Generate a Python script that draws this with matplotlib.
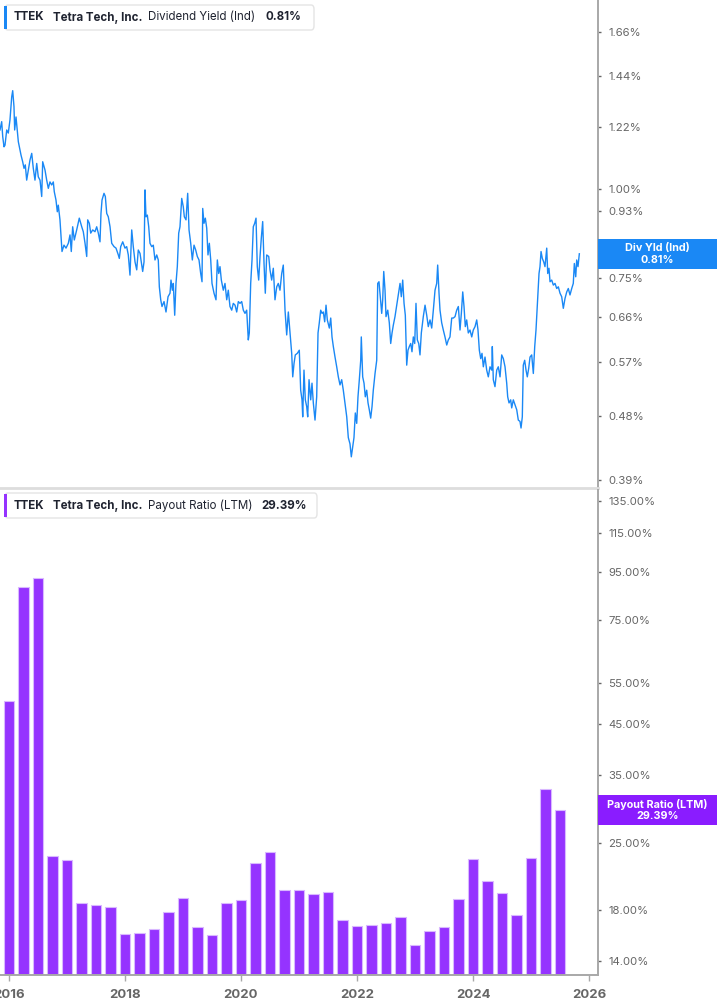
import matplotlib
matplotlib.use("Agg")
import matplotlib.pyplot as plt
from matplotlib.patches import Rectangle, FancyBboxPatch
from matplotlib.transforms import IdentityTransform
from matplotlib.ticker import FixedLocator, NullLocator

plt.rcParams['font.family'] = ['Inter', 'DejaVu Sans']

# dividend yield (Ind), % -- dates as decimal years
yld_dates = [
    2015.845, 2015.874, 2015.892, 2015.914, 2015.931, 2015.961, 2015.988, 2016.017, 2016.047, 2016.064,
    2016.086, 2016.098, 2016.121, 2016.143, 2016.161, 2016.190, 2016.207, 2016.236, 2016.259, 2016.281,
    2016.305, 2016.333, 2016.362, 2016.392, 2016.419, 2016.448, 2016.478, 2016.505, 2016.535, 2016.564,
    2016.581, 2016.621, 2016.650, 2016.678, 2016.707, 2016.736, 2016.764, 2016.781, 2016.810, 2016.833,
    2016.850, 2016.879, 2016.897, 2016.914, 2016.948, 2016.983, 2017.023, 2017.052, 2017.074, 2017.098,
    2017.126, 2017.167, 2017.212, 2017.254, 2017.281, 2017.311, 2017.340, 2017.357, 2017.385, 2017.409,
    2017.443, 2017.483, 2017.512, 2017.540, 2017.569, 2017.586, 2017.604, 2017.638, 2017.661, 2017.685,
    2017.712, 2017.742, 2017.771, 2017.811, 2017.845, 2017.885, 2017.902, 2017.926, 2017.961, 2018.000,
    2018.029, 2018.057, 2018.086, 2018.116, 2018.143, 2018.173, 2018.202, 2018.229, 2018.259, 2018.288,
    2018.305, 2018.328, 2018.345, 2018.362, 2018.385, 2018.409, 2018.431, 2018.461, 2018.488, 2018.517,
    2018.547, 2018.574, 2018.592, 2018.616, 2018.638, 2018.673, 2018.707, 2018.742, 2018.776, 2018.793,
    2018.816, 2018.833, 2018.857, 2018.879, 2018.902, 2018.926, 2018.948, 2018.978, 2019.005, 2019.023,
    2019.052, 2019.081, 2019.104, 2019.133, 2019.161, 2019.190, 2019.219, 2019.247, 2019.276, 2019.305,
    2019.328, 2019.340, 2019.362, 2019.385, 2019.409, 2019.431, 2019.454, 2019.478, 2019.500, 2019.535,
    2019.569, 2019.592, 2019.616, 2019.638, 2019.661, 2019.695, 2019.724, 2019.754, 2019.781, 2019.810,
    2019.840, 2019.867, 2019.897, 2019.926, 2019.954, 2019.983, 2020.012, 2020.040, 2020.069, 2020.098,
    2020.126, 2020.143, 2020.167, 2020.190, 2020.212, 2020.236, 2020.259, 2020.281, 2020.305, 2020.328,
    2020.350, 2020.374, 2020.397, 2020.419, 2020.443, 2020.478, 2020.500, 2020.529, 2020.557, 2020.586,
    2020.616, 2020.643, 2020.672, 2020.702, 2020.729, 2020.759, 2020.788, 2020.816, 2020.845, 2020.874,
    2020.892, 2020.914, 2020.936, 2020.971, 2021.005, 2021.029, 2021.052, 2021.064, 2021.086, 2021.109,
    2021.133, 2021.150, 2021.173, 2021.202, 2021.224, 2021.247, 2021.276, 2021.305, 2021.328, 2021.350,
    2021.374, 2021.397, 2021.419, 2021.443, 2021.466, 2021.488, 2021.523, 2021.547, 2021.569, 2021.592,
    2021.621, 2021.650, 2021.678, 2021.707, 2021.736, 2021.764, 2021.793, 2021.823, 2021.850, 2021.879,
    2021.902, 2021.926, 2021.948, 2021.971, 2021.995, 2022.017, 2022.040, 2022.064, 2022.074, 2022.098,
    2022.121, 2022.143, 2022.167, 2022.190, 2022.212, 2022.236, 2022.259, 2022.281, 2022.311, 2022.340,
    2022.357, 2022.379, 2022.402, 2022.426, 2022.443, 2022.461, 2022.483, 2022.500, 2022.530, 2022.557,
    2022.581, 2022.604, 2022.626, 2022.655, 2022.685, 2022.712, 2022.742, 2022.764, 2022.788, 2022.811,
    2022.833, 2022.857, 2022.879, 2022.902, 2022.926, 2022.948, 2022.971, 2022.995, 2023.017, 2023.040,
    2023.064, 2023.086, 2023.109, 2023.143, 2023.173, 2023.202, 2023.229, 2023.259, 2023.288, 2023.316,
    2023.345, 2023.374, 2023.391, 2023.414, 2023.431, 2023.460, 2023.488, 2023.517, 2023.547, 2023.574,
    2023.603, 2023.633, 2023.661, 2023.690, 2023.719, 2023.747, 2023.776, 2023.799, 2023.823, 2023.845,
    2023.867, 2023.891, 2023.919, 2023.948, 2023.978, 2024.005, 2024.035, 2024.064, 2024.086, 2024.109,
    2024.133, 2024.155, 2024.178, 2024.207, 2024.236, 2024.264, 2024.293, 2024.323, 2024.333, 2024.350,
    2024.379, 2024.409, 2024.436, 2024.466, 2024.495, 2024.523, 2024.552, 2024.581, 2024.598, 2024.621,
    2024.650, 2024.667, 2024.695, 2024.724, 2024.754, 2024.781, 2024.810, 2024.828, 2024.850, 2024.867,
    2024.891, 2024.914, 2024.936, 2024.960, 2024.983, 2025.012, 2025.040, 2025.064, 2025.086, 2025.104,
    2025.121, 2025.138, 2025.155, 2025.173, 2025.195, 2025.219, 2025.241, 2025.271, 2025.288, 2025.310,
    2025.328, 2025.357, 2025.385, 2025.414, 2025.443, 2025.471, 2025.500, 2025.529, 2025.557, 2025.586,
    2025.616, 2025.643, 2025.672, 2025.702, 2025.729, 2025.747, 2025.771, 2025.788, 2025.810, 2025.833,
]
yld_values = [
    1.209, 1.242, 1.183, 1.145, 1.151, 1.209, 1.197, 1.249, 1.346, 1.373,
    1.304, 1.209, 1.261, 1.209, 1.164, 1.133, 1.115, 1.091, 1.068, 1.080,
    1.028, 1.062, 1.097, 1.121, 1.068, 1.028, 1.085, 1.039, 1.028, 0.975,
    1.091, 1.062, 1.028, 1.001, 1.022, 1.012, 1.022, 0.990, 0.964, 0.928,
    0.948, 0.904, 0.856, 0.816, 0.833, 0.825, 0.838, 0.861, 0.816, 0.884,
    0.847, 0.875, 0.909, 0.884, 0.870, 0.838, 0.803, 0.904, 0.894, 0.866,
    0.875, 0.870, 0.884, 0.866, 0.842, 0.923, 0.964, 0.985, 0.975, 0.923,
    0.913, 0.884, 0.838, 0.829, 0.825, 0.807, 0.798, 0.829, 0.842, 0.825,
    0.829, 0.807, 0.756, 0.875, 0.829, 0.789, 0.769, 0.820, 0.811, 0.781,
    0.765, 0.789, 0.996, 0.913, 0.918, 0.884, 0.838, 0.829, 0.833, 0.794,
    0.807, 0.794, 0.728, 0.698, 0.683, 0.694, 0.671, 0.705, 0.713, 0.744,
    0.720, 0.736, 0.664, 0.736, 0.777, 0.866, 0.884, 0.969, 0.943, 0.913,
    0.904, 0.985, 0.875, 0.838, 0.794, 0.833, 0.820, 0.803, 0.794, 0.760,
    0.740, 0.938, 0.894, 0.909, 0.880, 0.807, 0.838, 0.794, 0.736, 0.713,
    0.698, 0.794, 0.760, 0.777, 0.744, 0.720, 0.736, 0.698, 0.720, 0.683,
    0.675, 0.690, 0.686, 0.671, 0.694, 0.690, 0.694, 0.675, 0.668, 0.675,
    0.613, 0.627, 0.736, 0.794, 0.884, 0.894, 0.909, 0.777, 0.744, 0.803,
    0.852, 0.899, 0.785, 0.713, 0.807, 0.803, 0.769, 0.744, 0.773, 0.698,
    0.728, 0.736, 0.720, 0.760, 0.781, 0.675, 0.623, 0.671, 0.627, 0.587,
    0.544, 0.568, 0.584, 0.587, 0.593, 0.521, 0.505, 0.478, 0.556, 0.505,
    0.494, 0.478, 0.539, 0.505, 0.533, 0.500, 0.473, 0.510, 0.627, 0.648,
    0.675, 0.668, 0.671, 0.650, 0.686, 0.654, 0.637, 0.658, 0.619, 0.600,
    0.580, 0.562, 0.544, 0.530, 0.539, 0.521, 0.500, 0.478, 0.447, 0.438,
    0.420, 0.434, 0.447, 0.484, 0.468, 0.510, 0.539, 0.574, 0.619, 0.544,
    0.533, 0.510, 0.521, 0.500, 0.489, 0.476, 0.494, 0.521, 0.550, 0.574,
    0.736, 0.740, 0.705, 0.668, 0.698, 0.765, 0.720, 0.661, 0.675, 0.648,
    0.606, 0.627, 0.643, 0.661, 0.686, 0.709, 0.736, 0.705, 0.744, 0.690,
    0.664, 0.565, 0.593, 0.600, 0.606, 0.590, 0.619, 0.606, 0.690, 0.613,
    0.606, 0.584, 0.627, 0.661, 0.686, 0.664, 0.640, 0.654, 0.637, 0.675,
    0.720, 0.736, 0.781, 0.713, 0.675, 0.648, 0.633, 0.619, 0.603, 0.613,
    0.619, 0.658, 0.658, 0.661, 0.675, 0.683, 0.633, 0.668, 0.716, 0.683,
    0.640, 0.654, 0.627, 0.633, 0.619, 0.633, 0.640, 0.654, 0.633, 0.593,
    0.577, 0.587, 0.562, 0.580, 0.556, 0.544, 0.562, 0.556, 0.600, 0.539,
    0.527, 0.556, 0.562, 0.544, 0.584, 0.577, 0.562, 0.533, 0.510, 0.500,
    0.505, 0.492, 0.505, 0.497, 0.489, 0.473, 0.471, 0.461, 0.478, 0.565,
    0.574, 0.556, 0.544, 0.559, 0.580, 0.584, 0.550, 0.600, 0.633, 0.675,
    0.720, 0.760, 0.777, 0.816, 0.798, 0.789, 0.777, 0.825, 0.760, 0.773,
    0.740, 0.744, 0.732, 0.736, 0.724, 0.728, 0.713, 0.705, 0.679, 0.701,
    0.716, 0.724, 0.709, 0.724, 0.736, 0.785, 0.752, 0.794, 0.777, 0.810,
]

# payout ratio (LTM), %, quarterly
payout_dates = [2016.0 + 0.25 * i for i in range(39)]
payout_values = [
    50.3, 88.2, 92.3, 23.45, 23.0, 18.61, 18.40, 18.27, 16.00, 16.08,
    16.37, 17.80, 19.10, 16.51, 15.89, 18.58, 18.91, 22.63, 23.89, 19.84,
    19.84, 19.42, 19.61, 17.09, 16.61, 16.72, 16.86, 17.39, 15.13, 16.19,
    16.56, 18.95, 23.08, 20.77, 19.55, 17.51, 23.22, 32.63, 29.39,
]

yld_ticks = [0.39, 0.48, 0.57, 0.66, 0.75, 0.84, 0.93, 1.00, 1.22, 1.44, 1.66]
payout_ticks = [14, 18, 25, 35, 45, 55, 75, 95, 115, 135]
year_ticks = [2016, 2018, 2020, 2022, 2024, 2026]

ticker = "TTEK"
company = "Tetra Tech, Inc."
last_yld = 0.81
last_payout = 29.39

BLUE = "#1a88f5"
PURPLE = "#9533ff"
TICK_GRAY = "#666666"
SPINE = "#a8a8a8"

W, H = 717, 1005
fig = plt.figure(figsize=(W / 100, H / 100), dpi=100)
ax1 = fig.add_axes([0, 1 - 488 / H, 598 / W, 488 / H])
ax2 = fig.add_axes([0, 30 / H, 598 / W, 485 / H])

xlim = (2015.845, 2026.155)

# top panel: dividend yield line
ax1.plot(yld_dates, yld_values, color=BLUE, lw=1.0)
ax1.set_yscale('log')
ax1.set_ylim(0.3797, 1.841)
ax1.set_xlim(*xlim)

# bottom panel: payout bars
ax2.set_yscale('log')
pmin = 13.05
ax2.bar(payout_dates, [v - pmin for v in payout_values], bottom=pmin, width=0.175,
        color=PURPLE, edgecolor="#d9b8ff", linewidth=0.8)
ax2.set_ylim(pmin, 142.3)
ax2.set_xlim(*xlim)

for ax, ticks in ((ax1, yld_ticks), (ax2, payout_ticks)):
    for s in ('left', 'top'):
        ax.spines[s].set_visible(False)
    ax.spines['right'].set_color(SPINE)
    ax.spines['right'].set_linewidth(1.4)
    ax.yaxis.tick_right()
    ax.yaxis.set_major_locator(FixedLocator(ticks))
    ax.yaxis.set_minor_locator(NullLocator())
    ax.tick_params(axis='y', which='both', length=2.5, width=1, color=TICK_GRAY,
                   pad=5, labelsize=8.2, labelcolor=TICK_GRAY)

ax1.set_yticklabels([f"{t:.2f}%" for t in yld_ticks])
ax2.set_yticklabels([f"{t:.2f}%" for t in payout_ticks])

ax1.spines['bottom'].set_color("#dddddd")
ax1.spines['bottom'].set_linewidth(2)
ax1.set_xticks([])

ax2.spines['bottom'].set_color(SPINE)
ax2.spines['bottom'].set_linewidth(1.4)
ax2.set_xticks(year_ticks)
ax2.set_xticklabels([str(y) for y in year_ticks])
ax2.tick_params(axis='x', length=4, width=1, color=SPINE, pad=6,
                labelsize=9.5, labelcolor=TICK_GRAY)
for lbl in ax2.get_xticklabels():
    lbl.set_fontweight('bold')


def value_box(ax, val, color, title, value_text):
    _, yc = ax.transData.transform((xlim[0], val))
    x0 = ax.transAxes.transform((1, 0))[0]
    fig.add_artist(Rectangle((x0, yc - 15), W - x0, 30, transform=IdentityTransform(),
                             facecolor=color, edgecolor='none', zorder=10))
    xc = (x0 + W) / 2
    fig.text(xc / W, (yc + 6) / H, title, color='white', fontsize=7.8, fontweight='bold',
             ha='center', va='center', zorder=11)
    fig.text(xc / W, (yc - 6) / H, value_text, color='white', fontsize=7.8, fontweight='bold',
             ha='center', va='center', zorder=11)


value_box(ax1, last_yld, BLUE, "Div Yld (Ind)", f"{last_yld:.2f}%")
value_box(ax2, last_payout, "#8a1cff", "Payout Ratio (LTM)", f"{last_payout:.2f}%")


def legend_box(top, right, color, metric, value_text):
    fig.add_artist(FancyBboxPatch((5 / W, 1 - (top + 25) / H), (right - 5) / W, 25 / H,
                                  boxstyle="round,pad=0,rounding_size=0.004",
                                  transform=fig.transFigure, facecolor='white',
                                  edgecolor="#e4e4e4", linewidth=1, zorder=10))
    fig.add_artist(Rectangle((4 / W, 1 - (top + 24) / H), 3 / W, 23 / H,
                             transform=fig.transFigure, facecolor=color,
                             edgecolor='none', zorder=11))
    yc = 1 - (top + 12.5) / H
    kw = dict(fontsize=8.3, color="#1f2330", va='center', zorder=12)
    fig.text(13.5 / W, yc, ticker, fontweight='bold', **kw)
    fig.text(53 / W, yc, company, fontweight='bold', **kw)
    fig.text(148 / W, yc, metric, **kw)
    fig.text(value_text[1] / W, yc, value_text[0], fontweight='bold', **kw)


legend_box(5, 314, BLUE, "Dividend Yield (Ind)", (f"{last_yld:.2f}%", 265.5))
legend_box(493, 317, PURPLE, "Payout Ratio (LTM)", (f"{last_payout:.2f}%", 261))

fig.savefig("out.png", dpi=100)
